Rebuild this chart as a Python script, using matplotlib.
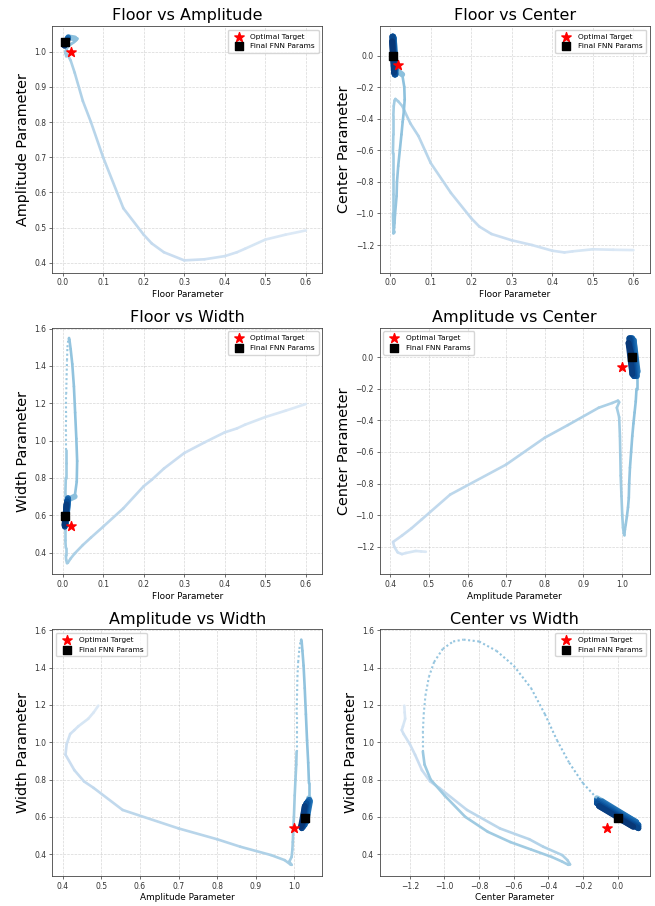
import numpy as np
import matplotlib
matplotlib.use("Agg")
from matplotlib import pyplot as plt
from matplotlib.collections import LineCollection

# Parameter path taken by the FNN during training, in visiting order.
# Phase 1: long slide in from the initial guess
floor_slide = [0.600, 0.550, 0.500, 0.450, 0.430, 0.400, 0.350, 0.300, 0.250,
               0.220, 0.200, 0.150, 0.100, 0.070, 0.050, 0.030, 0.020, 0.013]
amp_slide = [0.492, 0.480, 0.466, 0.440, 0.430, 0.419, 0.410, 0.407, 0.430,
             0.455, 0.480, 0.555, 0.700, 0.800, 0.860, 0.940, 0.975, 0.990]
center_slide = [-1.232, -1.230, -1.227, -1.240, -1.247, -1.236, -1.200, -1.170, -1.130,
                -1.083, -1.030, -0.870, -0.680, -0.510, -0.430, -0.320, -0.290, -0.275]
width_slide = [1.196, 1.160, 1.126, 1.085, 1.065, 1.044, 0.990, 0.933, 0.850,
               0.790, 0.755, 0.637, 0.538, 0.480, 0.440, 0.395, 0.368, 0.345]

# Phase 2: center overshoots down to -1.12 while width starts to grow
floor_dip = [0.011, 0.009, 0.008, 0.008, 0.007, 0.007, 0.007, 0.007, 0.008, 0.008]
amp_dip = [0.993, 0.987, 0.993, 0.995, 0.996, 0.997, 0.999, 1.001, 1.003, 1.005]
center_dip = [-0.285, -0.320, -0.380, -0.500, -0.620, -0.750, -0.880, -1.000, -1.080, -1.115]
width_dip = [0.343, 0.360, 0.385, 0.425, 0.465, 0.520, 0.600, 0.715, 0.800, 0.880]

# Phase 3a: fast climb of the width up to 1.55
floor_climb = [0.008, 0.008, 0.009, 0.009, 0.010, 0.011, 0.012, 0.014, 0.016]
amp_climb = [1.006, 1.006, 1.006, 1.007, 1.008, 1.010, 1.013, 1.016, 1.018]
center_climb = [-1.125, -1.125, -1.120, -1.110, -1.090, -1.060, -1.010, -0.950, -0.890]
width_climb = [0.950, 1.050, 1.150, 1.250, 1.350, 1.430, 1.500, 1.540, 1.550]

# Phase 3b: width falls back while center runs up towards zero
floor_fall = [0.017, 0.020, 0.024, 0.028, 0.031, 0.034, 0.036, 0.035, 0.030]
amp_fall = [1.019, 1.021, 1.024, 1.027, 1.030, 1.033, 1.036, 1.038, 1.038]
center_fall = [-0.800, -0.700, -0.600, -0.500, -0.420, -0.350, -0.280, -0.200, -0.120]
width_fall = [1.540, 1.490, 1.410, 1.290, 1.150, 1.010, 0.890, 0.780, 0.700]

# Phase 4: long oscillation around the final parameters
floor_settle = [0.0141, 0.0094, 0.0135, 0.0079, 0.0123, 0.0067, 0.0111, 0.0055, 0.0097, 0.0049, 0.0070]
amp_settle = [1.0409, 1.0308, 1.0385, 1.0267, 1.0349, 1.0231, 1.0313, 1.0195, 1.0272, 1.0172, 1.0270]
center_settle = [-0.090, 0.108, -0.120, 0.120, -0.120, 0.120, -0.120, 0.120, -0.108, 0.090, 0.000]
width_settle = [0.684, 0.572, 0.691, 0.557, 0.682, 0.548, 0.673, 0.539, 0.658, 0.547, 0.595]

# reference points
optimal_target = {"floor": 0.02, "amp": 1.0, "center": -0.06, "width": 0.54}
final_params = {"floor": 0.007, "amp": 1.027, "center": 0.0, "width": 0.595}

path = {
  "floor": floor_slide + floor_dip + floor_climb + floor_fall + floor_settle,
  "amp": amp_slide + amp_dip + amp_climb + amp_fall + amp_settle,
  "center": center_slide + center_dip + center_climb + center_fall + center_settle,
  "width": width_slide + width_dip + width_climb + width_fall + width_settle,
}

names = {"floor": "Floor", "amp": "Amplitude", "center": "Center", "width": "Width"}
limits = {"floor": (-0.026, 0.641), "amp": (0.372, 1.073),
          "center": (-1.375, 0.187), "width": (0.283, 1.605)}

panels = [("floor", "amp", "upper right"), ("floor", "center", "upper right"),
          ("floor", "width", "upper right"), ("amp", "center", "upper left"),
          ("amp", "width", "upper left"), ("center", "width", "upper right")]

# segment index ranges of each phase
n_slide = len(floor_slide)
n_dip = len(floor_dip)
n_climb = len(floor_climb)
n_fall = len(floor_fall)
n_settle = len(floor_settle)
i_climb = n_slide + n_dip - 1
i_fall = i_climb + n_climb
i_settle = i_fall + n_fall

# colour per segment: pale early on, dark once it settles
shades = np.concatenate([np.linspace(0.14, 0.36, n_slide),
                         np.linspace(0.36, 0.42, n_dip + n_climb + n_fall),
                         np.linspace(0.72, 1.0, n_settle)])[:-1]


def draw_path(ax, xs, ys, dotted_climb, dotted_fall):
  pts = np.column_stack([xs, ys])
  segs = np.stack([pts[:-1], pts[1:]], axis=1)
  colors = plt.cm.Blues(shades)
  lw = np.full(len(segs), 1.9)
  lw[i_settle:] = 4.2

  # the fast parts of the run only leave sparse points behind
  sparse = np.zeros(len(segs), dtype=bool)
  if dotted_climb:
    sparse[i_climb + 1:i_fall] = True
  if dotted_fall:
    sparse[i_fall:i_settle] = True

  solid = LineCollection(segs[~sparse], colors=colors[~sparse], linewidths=lw[~sparse],
                         capstyle="round", joinstyle="round", zorder=2)
  ax.add_collection(solid)
  if sparse.any():
    dots = LineCollection(segs[sparse], colors=colors[sparse], linewidths=1.5,
                          linestyles=[(0, (1.0, 1.2))], capstyle="butt", zorder=2)
    ax.add_collection(dots)


fig, axes = plt.subplots(3, 2, figsize=(6.55, 9.06), dpi=100)
fig.subplots_adjust(left=0.0794, right=0.9924, bottom=0.0331, top=0.9713,
                    wspace=0.211, hspace=0.223)

for ax, (xk, yk, loc) in zip(axes.flat, panels):
  draw_path(ax, path[xk], path[yk],
            dotted_climb=(yk == "width"), dotted_fall=(xk == "center"))
  ax.scatter(optimal_target[xk], optimal_target[yk], marker="*", s=50,
             color="red", zorder=5, label="Optimal Target")
  ax.scatter(final_params[xk], final_params[yk], marker="s", s=32,
             color="black", zorder=6, label="Final FNN Params")
  ax.set_xlim(*limits[xk])
  ax.set_ylim(*limits[yk])
  ax.set_title(f"{names[xk]} vs {names[yk]}", fontsize=11.5, pad=4)
  ax.set_xlabel(f"{names[xk]} Parameter", fontsize=6.4, labelpad=2)
  ax.set_ylabel(f"{names[yk]} Parameter", fontsize=10.4, labelpad=3)
  ax.tick_params(labelsize=5.5, length=2, width=0.5, pad=2, colors="#333333")
  ax.grid(True, linestyle="--", linewidth=0.5, alpha=0.5)
  for sp in ax.spines.values():
    sp.set_linewidth(0.6)
    sp.set_color("#444444")
  ax.legend(loc=loc, fontsize=5.3, handletextpad=0.6, borderpad=0.5)

fig.savefig("out.png", dpi=100)
